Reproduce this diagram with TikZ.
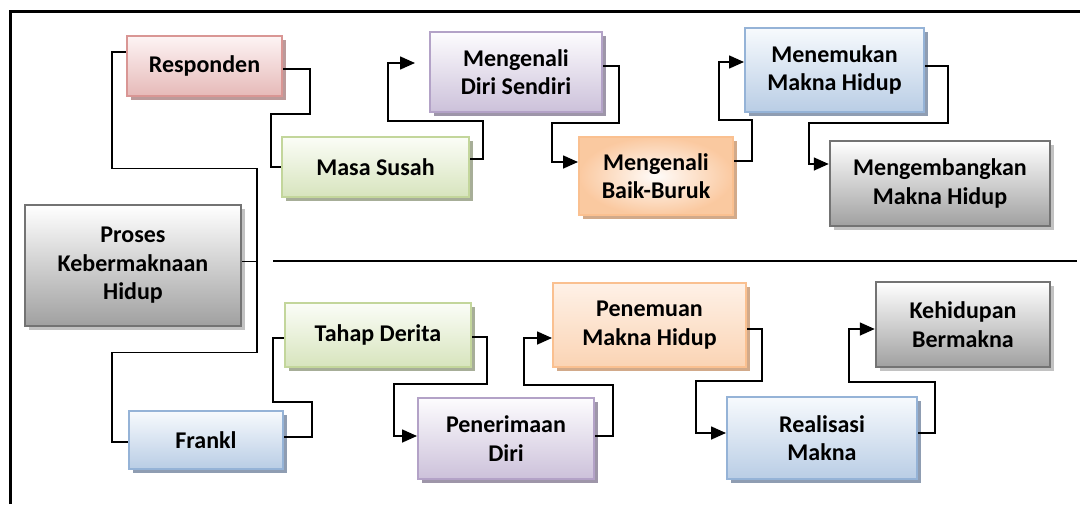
\documentclass[tikz,border=0pt]{standalone}
\usepackage{fontspec}
\setmainfont{Carlito}
\usetikzlibrary{arrows.meta,shadows}

\definecolor{redtop}{HTML}{FDF4F4}
\definecolor{redbot}{HTML}{E6B9B8}
\definecolor{redline}{HTML}{D99694}
\definecolor{redshd}{HTML}{BC9A9A}
\definecolor{greentop}{HTML}{FBFDF7}
\definecolor{greenbot}{HTML}{D7E4BD}
\definecolor{greenline}{HTML}{C3D69B}
\definecolor{greenshd}{HTML}{A7AE98}
\definecolor{purptop}{HTML}{FDFCFE}
\definecolor{purpbot}{HTML}{CCC1DA}
\definecolor{purpline}{HTML}{B3A2C7}
\definecolor{purpshd}{HTML}{9E96A9}
\definecolor{orgtop}{HTML}{FEF1E7}
\definecolor{orgbot}{HTML}{FBD4B4}
\definecolor{orgline}{HTML}{FAC090}
\definecolor{orgshd}{HTML}{D2AA8A}
\definecolor{bluetop}{HTML}{F7FAFD}
\definecolor{bluebot}{HTML}{B9CDE5}
\definecolor{blueline}{HTML}{95B3D7}
\definecolor{blueshd}{HTML}{8F9DB2}
\definecolor{graytop}{HTML}{FFFFFF}
\definecolor{graybot}{HTML}{A0A0A0}
\definecolor{grayline}{HTML}{737373}
\definecolor{grayshd}{HTML}{C2C2C2}

\tikzstyle{box} = [draw, rectangle, line width=2pt, align=center, inner sep=0pt, font=\bfseries\fontsize{24}{28.5}\selectfont]
\tikzstyle{redbox} = [box, draw=redline, top color=redtop, bottom color=redbot, general shadow={shadow xshift=4pt,shadow yshift=-4pt,fill=redshd}]
\tikzstyle{greenbox} = [box, draw=greenline, top color=greentop, bottom color=greenbot, general shadow={shadow xshift=4pt,shadow yshift=-4pt,fill=greenshd}]
\tikzstyle{purpbox} = [box, draw=purpline, top color=purptop, bottom color=purpbot, general shadow={shadow xshift=4pt,shadow yshift=-4pt,fill=purpshd}]
\tikzstyle{orgbox} = [box, draw=orgline, top color=orgtop, bottom color=orgbot, general shadow={shadow xshift=4pt,shadow yshift=-4pt,fill=orgshd}]
\tikzstyle{bluebox} = [box, draw=blueline, top color=bluetop, bottom color=bluebot, general shadow={shadow xshift=4pt,shadow yshift=-4pt,fill=blueshd}]
\tikzstyle{graybox} = [box, line width=2.5pt, draw=grayline, top color=graytop, bottom color=graybot, general shadow={shadow xshift=4pt,shadow yshift=-4pt,fill=grayshd}]
\tikzstyle{link} = [line width=1.6pt]
\tikzstyle{arrow} = [link, -{Triangle[length=15pt,width=13pt]}]

\begin{document}
\begin{tikzpicture}[x=1pt,y=-1pt]
  \def\frame{3pt}
  \useasboundingbox (0,0) rectangle (1080,504);

  % left part
  \node [graybox, minimum width=216, minimum height=121] (proc) at (133,265.5) {Proses\\Kebermaknaan\\Hidup};
  \node [redbox, minimum width=155, minimum height=60] (resp) at (204.5,66) {Responden};
  \node [bluebox, minimum width=154, minimum height=58] (frankl) at (206,440) {Frankl};

  % upper row
  \node [greenbox, minimum width=187, minimum height=60] (masa) at (375.5,167) {Masa Susah};
  \node [purpbox, minimum width=172, minimum height=80] (diri) at (516,72) {Mengenali\\Diri Sendiri};
  \node [orgbox, inner color=white!75!orgtop, outer color=orgline!55!orgbot, minimum width=154, minimum height=78] (baik) at (656,176) {Mengenali\\Baik-Buruk};
  \node [bluebox, minimum width=179, minimum height=84] (temu) at (834.5,70) {Menemukan\\Makna Hidup};
  \node [graybox, minimum width=220, minimum height=85] (kemb) at (940,183.5) {Mengembangkan\\Makna Hidup};

  % lower row
  \node [greenbox, minimum width=186, minimum height=64] (derita) at (378,335) {Tahap Derita};
  \node [purpbox, minimum width=176, minimum height=81] (terima) at (506,438.5) {Penerimaan\\Diri};
  \node [orgbox, minimum width=193, minimum height=84] (penemuan) at (649.5,325) {Penemuan\\Makna Hidup};
  \node [bluebox, minimum width=190, minimum height=82] (realis) at (822,438) {Realisasi\\Makna};
  \node [graybox, minimum width=174, minimum height=85] (hidup) at (963,324.5) {Kehidupan\\Bermakna};

  % frame and divider
  \draw [line width=\frame] (10,504) -- (10,11) -- (1080,11);
  \draw [line width=2pt] (273,261) -- (1077,261);

  \draw [link] ([yshift=4pt]proc.east) -- ++(15,0) |- ++(-145,-93) |- ([yshift=14pt]resp.west);
  \draw [link] ([yshift=4pt]proc.east) -- ++(15,0) |- ++(-145,91) |- ([yshift=-2pt]frankl.west);

  \draw [link] ([yshift=-3pt]resp.east) -- ++(27,0) |- ++(-39,45) |- (masa.west);
  \draw [arrow,shorten >=14pt] ([yshift=8pt]masa.east) -- ++(13,0) |- ++(-95,-38) |- ([yshift=9pt]diri.west);
  \draw [arrow] ([yshift=6pt]diri.east) -- ++(16,0) |- ++(-67,57) |- ([yshift=14pt]baik.west);
  \draw [arrow] ([yshift=15pt]baik.east) -- ++(18,0) |- ++(-33,-41) |- ([yshift=8pt]temu.west);
  \draw [arrow] ([yshift=4pt]temu.east) -- ++(23,0) |- ++(-139,57) |- ([yshift=19.5pt]kemb.west);

  \draw [link] ([yshift=3pt]frankl.east) -- ++(28,0) |- ++(-39,-35) |- ([yshift=-3pt]derita.west);
  \draw [arrow] ([yshift=-2pt]derita.east) -- ++(15,0) |- ++(-93,47) |- ([yshift=2.5pt]terima.west);
  \draw [arrow] ([yshift=2.5pt]terima.east) -- ++(18,0) |- ++(-89,-51) |- ([yshift=-13pt]penemuan.west);
  \draw [arrow] ([yshift=-4pt]penemuan.east) -- ++(15,0) |- ++(-66,52) |- ([yshift=5pt]realis.west);
  \draw [arrow] ([yshift=5pt]realis.east) -- ++(17,0) |- ++(-86,-51) |- ([yshift=-4.5pt]hidup.west);
\end{tikzpicture}
\end{document}
